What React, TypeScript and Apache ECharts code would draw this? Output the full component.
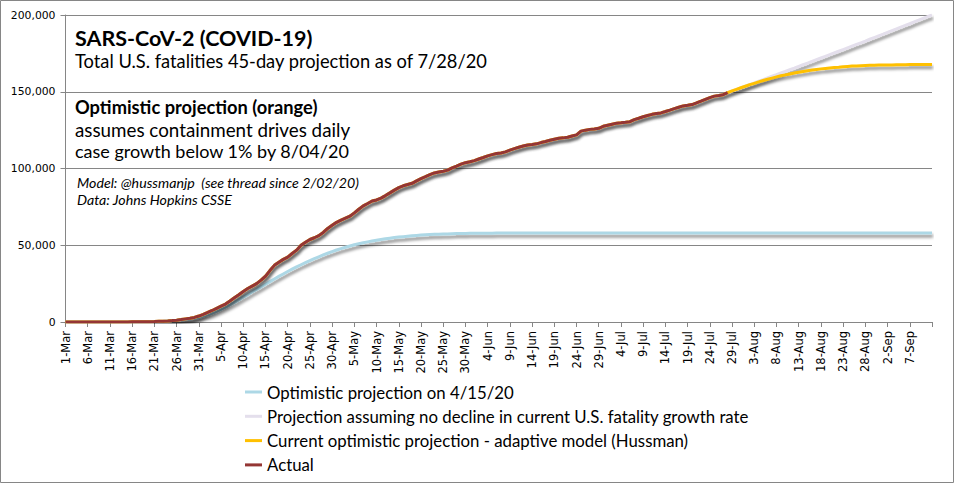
import React, { useEffect, useRef } from "react";
import * as echarts from "echarts";

// ---- Data -------------------------------------------------------------
const monthNames = ["Mar", "Apr", "May", "Jun", "Jul", "Aug", "Sep"];
const monthDays = [31, 30, 31, 30, 31, 31, 12]; // through 12-Sep
const categories: string[] = [];
monthNames.forEach((m, mi) => {
  for (let d = 1; d <= monthDays[mi]; d++) categories.push(`${d}-${m}`);
});

// Actual U.S. cumulative fatalities, 1-Mar .. 28-Jul
const actual = [
  1, 6, 7, 11, 12, 14, 17, 21, 22, 28, 36, 40, 47, 54, 63, 85, 108, 118, 200, 244,
  307, 427, 552, 706, 942, 1209, 1581, 2026, 2467, 2978, 3873,
  5000, 6200, 7500, 8900, 10300, 11700, 13700, 15800, 17800, 19900, 21800, 23400,
  25000, 27300, 29800, 33500, 36900, 38900, 40800, 42300, 44600, 46800, 49954,
  51949, 53755, 54881, 56259, 58355, 60967, 62996,
  64943, 66369, 67682, 68922, 71064, 73455, 75662, 77180, 78795, 79526, 80682,
  82356, 84119, 85898, 87530, 88754, 89562, 90347, 91921, 93439, 94702, 95979,
  97087, 97720, 98220, 98916, 100442, 101617, 102836, 103781, 104383,
  105147, 106181, 107175, 108211, 109042, 109750, 110128, 110845, 111938, 112906,
  113820, 114613, 115334, 115677, 116056, 116888, 117601, 118360, 119048, 119672,
  119959, 120340, 121174, 121924, 124338, 124983, 125490, 125776, 126152, 127471,
  128168, 128857, 129547, 129829, 130122, 130499, 131826, 132707, 133693, 134524,
  135280, 135781, 136200, 137106, 138037, 138988, 139885, 140759, 141200, 141668,
  142748, 143886, 145037, 146177, 147147, 147577, 148101, 149452,
];

// Current optimistic projection (adaptive model), 29-Jul .. 12-Sep
const adaptiveProjection = [
  150600, 151600, 152600,
  153600, 154600, 155500, 156400, 157300, 158100, 158900, 159700, 160400, 161000,
  161600, 162200, 162700, 163200, 163700, 164100, 164500, 164900, 165200, 165500,
  165800, 166000, 166300, 166500, 166700, 166800, 167000, 167100, 167200, 167300, 167400,
  167400, 167500, 167500, 167600, 167600, 167600, 167700, 167700, 167700, 167700, 167700, 167700,
];

// Projection assuming no decline in growth rate, 28-Jul .. 12-Sep
const noDeclineProjection = [
  149452, 150500, 151600, 152600, 153700, 154700, 155800, 156900, 157900, 159000,
  160100, 161100, 162200, 163300, 164400, 165400, 166500, 167600, 168700, 169800,
  170900, 172000, 173100, 174200, 175300, 176400, 177500, 178600, 179700, 180800,
  181900, 183000, 184200, 185300, 186400, 187500, 188700, 189800, 190900, 192100,
  193200, 194300, 195500, 196600, 197800, 198900, 200000,
];

// Optimistic projection made on 4/15/20, 1-Mar .. 12-Sep
const optimistic415 = [
  0, 0, 0, 0, 0, 0, 0, 0, 0, 0, 0, 0, 0, 0, 0, 0, 0, 0, 100, 200,
  300, 400, 500, 700, 900, 1100, 1400, 1700, 2000, 2400, 2900,
  3800, 4700, 5700, 6900, 8200, 9600, 11100, 12700, 14400, 16100, 17800, 19500,
  21200, 22900, 24600, 26300, 28000, 29700, 31300, 32900, 34400, 35900, 37300,
  38700, 40000, 41300, 42500, 43700, 44800, 45900,
  46900, 47800, 48700, 49500, 50300, 51000, 51600, 52200, 52800, 53300, 53800,
  54200, 54600, 55000, 55300, 55600, 55900, 56200, 56400, 56600, 56800, 57000,
  57100, 57200, 57300, 57400, 57500, 57600, 57700, 57700, 57800,
  57800, 57800, 57800, 57800, 57800, 57900, 57900, 57900, 57900, 57900,
  57900, 57900, 57900, 57900, 57900, 58000, 58000, 58000, 58000, 58000,
  58000, 58000, 58000, 58000, 58000, 58000, 58000, 58000, 58000, 58000,
  58000, 58000, 58000, 58000, 58000, 58000, 58000, 58000, 58000, 58000, 58000,
  58000, 58000, 58000, 58000, 58000, 58000, 58000, 58000, 58000, 58000,
  58000, 58000, 58000, 58000, 58000, 58000, 58000, 58000, 58000, 58000,
  58000, 58000, 58000, 58000, 58000, 58000, 58000, 58000, 58000, 58000, 58000,
  58000, 58000, 58000, 58000, 58000, 58000, 58000, 58000, 58000, 58000,
  58000, 58000, 58000, 58000, 58000, 58000, 58000, 58000, 58000, 58000,
  58000, 58000, 58000, 58000, 58000, 58000, 58000, 58000, 58000, 58000, 58000, 58000,
];

const yTicks = { min: 0, max: 200000, interval: 50000 };

const seriesNames = [
  "Optimistic projection on 4/15/20",
  "Projection assuming no decline in current U.S. fatality growth rate",
  "Current optimistic projection - adaptive model (Hussman)",
  "Actual",
];
const seriesColors = ["#ADD8E6", "#E4DFEC", "#FFC000", "#943634"];

// ---- Component --------------------------------------------------------
export default function App() {
  const ref = useRef<HTMLDivElement>(null);

  useEffect(() => {
    document.body.style.margin = "0";
    if (!ref.current) return;
    const chart = echarts.init(ref.current, undefined, { renderer: "svg" });

    const n = categories.length;
    const actualData = categories.map((_, i) => (i < actual.length ? actual[i] : null));
    const adaptiveData = categories.map((_, i) =>
      i < actual.length ? actual[i] : adaptiveProjection[i - actual.length] ?? null
    );
    const startNoDecline = actual.length - 1;
    const noDeclineData = categories.map((_, i) =>
      i >= startNoDecline ? noDeclineProjection[i - startNoDecline] ?? null : null
    );
    const opt415Data = categories.map((_, i) => optimistic415[i] ?? null);

    const shadow = {
      shadowColor: "rgba(0,0,0,0.45)",
      shadowBlur: 3,
      shadowOffsetX: 1,
      shadowOffsetY: 3,
    };

    const mkSeries = (idx: number, data: (number | null)[]) => ({
      name: seriesNames[idx],
      type: "line",
      data,
      showSymbol: false,
      symbol: "none",
      color: seriesColors[idx],
      lineStyle: { width: 3, color: seriesColors[idx], ...shadow },
      emphasis: { disabled: true },
      z: 2 + idx,
    });

    const textFont = "Lato, 'Noto Sans', sans-serif";

    chart.setOption({
      animation: false,
      backgroundColor: "#ffffff",
      grid: { left: 65.5, right: 23, top: 15, bottom: 162, containLabel: false },
      xAxis: {
        type: "category",
        data: categories,
        boundaryGap: false,
        axisLine: { show: true, lineStyle: { color: "#868686", width: 1 } },
        axisTick: {
          show: true,
          length: 5,
          interval: (i: number) => i % 5 === 0,
          lineStyle: { color: "#868686" },
        },
        axisLabel: {
          interval: (i: number) => i % 5 === 0 && i < n - 1,
          rotate: 90,
          margin: 9,
          fontFamily: "'DejaVu Sans', sans-serif",
          fontSize: 11.5,
          color: "#000",
        },
        splitLine: { show: false },
      },
      yAxis: {
        type: "value",
        min: yTicks.min,
        max: yTicks.max,
        interval: yTicks.interval,
        axisLine: { show: true, lineStyle: { color: "#868686", width: 1 } },
        axisTick: { show: true, length: 5, lineStyle: { color: "#868686" } },
        axisLabel: {
          margin: 10,
          fontFamily: "'DejaVu Sans', sans-serif",
          fontSize: 10.8,
          color: "#000",
          formatter: (v: number) => v.toLocaleString("en-US"),
        },
        splitLine: { show: true, lineStyle: { color: "#868686", width: 1 } },
      },
      legend: {
        orient: "vertical",
        left: 240,
        top: 377,
        icon: "rect",
        itemWidth: 17,
        itemHeight: 3,
        itemGap: 4.3,
        selectedMode: false,
        data: seriesNames,
        textStyle: {
          fontFamily: textFont,
          fontSize: 16.8,
          color: "#000",
          lineHeight: 20,
        },
      },
      series: [
        mkSeries(0, opt415Data),
        mkSeries(1, noDeclineData),
        mkSeries(2, adaptiveData),
        mkSeries(3, actualData),
      ],
      graphic: [
        {
          type: "rect",
          shape: { x: 0.5, y: 0.5, width: 953, height: 482 },
          style: { fill: "none", stroke: "#868686", lineWidth: 1 },
          silent: true,
          z: 100,
        },
        {
          type: "text",
          x: 75,
          y: 38,
          style: {
            text: "SARS-CoV-2 (COVID-19)",
            font: `bold 21.5px ${textFont}`,
            fill: "#000",
            verticalAlign: "middle",
          },
        },
        {
          type: "text",
          x: 75,
          y: 61,
          style: {
            text: "Total U.S. fatalities 45-day projection as of 7/28/20",
            font: `18.3px ${textFont}`,
            fill: "#000",
            verticalAlign: "middle",
          },
        },
        {
          type: "text",
          x: 75,
          y: 107,
          style: {
            text: "Optimistic projection (orange)",
            font: `bold 18.3px ${textFont}`,
            fill: "#000",
            verticalAlign: "middle",
          },
        },
        {
          type: "text",
          x: 75,
          y: 129,
          style: {
            text: "assumes containment drives daily",
            font: `18.8px ${textFont}`,
            fill: "#000",
            verticalAlign: "middle",
          },
        },
        {
          type: "text",
          x: 75,
          y: 151,
          style: {
            text: "case growth below 1% by 8/04/20",
            font: `18px ${textFont}`,
            fill: "#000",
            verticalAlign: "middle",
          },
        },
        {
          type: "text",
          x: 77,
          y: 182.5,
          style: {
            text: "Model: @hussmanjp  (see thread since 2/02/20)",
            font: `italic 14.2px ${textFont}`,
            fill: "#000",
            verticalAlign: "middle",
          },
        },
        {
          type: "text",
          x: 77,
          y: 199.5,
          style: {
            text: "Data: Johns Hopkins CSSE",
            font: `italic 14.2px ${textFont}`,
            fill: "#000",
            verticalAlign: "middle",
          },
        },
      ],
    });

    return () => chart.dispose();
  }, []);

  return (
    <div
      ref={ref}
      style={{ position: "absolute", left: 0, top: 0, width: 955, height: 484 }}
    />
  );
}
